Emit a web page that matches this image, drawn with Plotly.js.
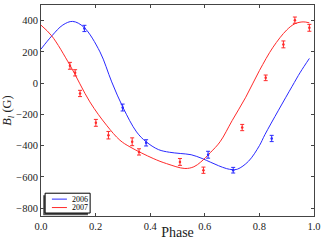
<!DOCTYPE html>
<html><head><meta charset="utf-8">
<script src="https://cdn.plot.ly/plotly-3.0.1.min.js"></script>
<style>html,body{margin:0;padding:0;background:#fff}#c{width:321px;height:240px}</style>
</head><body><div id="c"></div>
<script>
// Fitted curves
var fit2006X = [0.0, 0.04, 0.08, 0.116, 0.157, 0.216, 0.259, 0.301, 0.35, 0.385, 0.43, 0.47, 0.51, 0.55, 0.59, 0.62, 0.65, 0.68, 0.70, 0.72, 0.76, 0.80, 0.82, 0.87, 0.92, 0.95, 0.983];
var fit2006Y = [218, 303, 372, 395, 358, 200, 8, -158, -312, -375, -425, -442, -450, -458, -482, -505, -528, -547, -553, -550, -500, -400, -330, -173, -20, 70, 158];
var fit2007X = [0.0, 0.039, 0.106, 0.179, 0.24, 0.289, 0.326, 0.411, 0.46, 0.527, 0.56, 0.585, 0.62, 0.656, 0.70, 0.75, 0.80, 0.85, 0.90, 0.93, 0.96, 0.983];
var fit2007Y = [371, 303, 115, -120, -269, -365, -408, -482, -515, -546, -535, -505, -445, -375, -240, -90, 80, 230, 340, 380, 392, 386];
// Observations
var obs2006X = [0.159, 0.299, 0.385, 0.612, 0.704, 0.845];
var obs2006Y = [350, -156, -382, -458, -557, -354];
var obs2006E = [20, 22, 20, 22, 18, 20];
var obs2007X = [0.106, 0.125, 0.143, 0.201, 0.247, 0.334, 0.359, 0.509, 0.595, 0.737, 0.823, 0.888, 0.930, 0.983];
var obs2007Y = [111, 66, -66, -254, -333, -375, -440, -504, -557, -284, 34, 248, 403, 354];
var obs2007E = [22, 20, 20, 22, 24, 25, 20, 22, 20, 20, 18, 22, 20, 22];
var seriesNames = ['2006', '2007'];
var xTicks = [0, 0.2, 0.4, 0.6, 0.8, 1.0];
var yTicks = [-800, -600, -400, -200, 0, 200, 400];

var BLUE = '#2a2aff', RED = '#ff2a2a';
var F = 'Liberation Serif, DejaVu Serif, serif';
var traces = [
  {x: fit2006X, y: fit2006Y, mode: 'lines', line: {color: BLUE, width: 1, shape: 'spline', smoothing: 1}, name: seriesNames[0], hoverinfo: 'skip'},
  {x: fit2007X, y: fit2007Y, mode: 'lines', line: {color: RED, width: 1, shape: 'spline', smoothing: 1}, name: seriesNames[1], hoverinfo: 'skip'},
  {x: obs2006X, y: obs2006Y, mode: 'markers', marker: {color: BLUE, size: 2.5}, error_y: {type: 'data', array: obs2006E, visible: true, color: BLUE, thickness: 1, width: 2}, showlegend: false},
  {x: obs2007X, y: obs2007Y, mode: 'markers', marker: {color: RED, size: 2.5}, error_y: {type: 'data', array: obs2007E, visible: true, color: RED, thickness: 1, width: 2}, showlegend: false}
];
var axisCommon = {showgrid: false, zeroline: false, showline: true, mirror: 'ticks', linecolor: '#444', linewidth: 1,
  ticks: 'inside', ticklen: 3, tickcolor: '#444', tickfont: {family: F, size: 10.5, color: '#222'}};
var layout = {
  width: 321, height: 240, margin: {l: 41, r: 7, t: 5, b: 24},
  paper_bgcolor: '#fff', plot_bgcolor: '#fff', showlegend: false,
  xaxis: Object.assign({}, axisCommon, {range: [0, 1], tickvals: xTicks, tickformat: '.1f',
    title: {text: 'Phase', font: {family: F, size: 14, color: '#222'}, standoff: 1}}),
  yaxis: Object.assign({}, axisCommon, {range: [-850, 500], tickvals: yTicks,
    title: {text: '<i>B</i><sub><i>l</i></sub> (G)', font: {family: F, size: 12.5, color: '#222'}, standoff: 3}}),
  shapes: [
    {type: 'rect', xref: 'paper', yref: 'paper', x0: 0.008, x1: 0.172, y0: 0.004, y1: 0.098, fillcolor: '#555', line: {width: 0}},
    {type: 'rect', xref: 'paper', yref: 'paper', x0: 0.015, x1: 0.18, y0: 0.014, y1: 0.108, fillcolor: '#fff', line: {color: '#000', width: 1}},
    {type: 'line', xref: 'paper', yref: 'paper', x0: 0.04, x1: 0.095, y0: 0.080, y1: 0.080, line: {color: BLUE, width: 1}},
    {type: 'line', xref: 'paper', yref: 'paper', x0: 0.04, x1: 0.095, y0: 0.040, y1: 0.040, line: {color: RED, width: 1}}
  ],
  annotations: [
    {xref: 'paper', yref: 'paper', x: 0.105, y: 0.080, xanchor: 'left', yanchor: 'middle', text: seriesNames[0], showarrow: false, font: {family: F, size: 8, color: '#000'}},
    {xref: 'paper', yref: 'paper', x: 0.105, y: 0.040, xanchor: 'left', yanchor: 'middle', text: seriesNames[1], showarrow: false, font: {family: F, size: 8, color: '#000'}}
  ]
};
Plotly.newPlot('c', traces, layout, {displayModeBar: false, staticPlot: true});
</script></body></html>
